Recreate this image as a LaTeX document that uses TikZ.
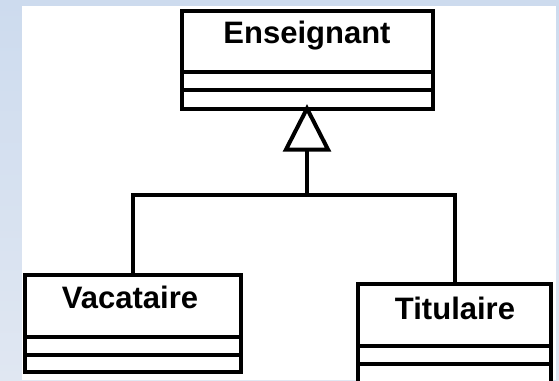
\documentclass[tikz,border=0pt]{standalone}
\usepackage{fontspec}
\setmainfont{Liberation Sans}
\begin{document}
\begin{tikzpicture}[x=1pt,y=-1pt,
  classbox/.style={draw=black,line width=4pt,fill=white,rectangle,inner sep=0pt,outer sep=0pt},
  classname/.style={font=\fontsize{31}{31}\selectfont\bfseries,anchor=base,inner sep=0pt},
  divider/.style={line width=4pt,draw=black},
  link/.style={line width=4pt,draw=black}]
\useasboundingbox (0,0) rectangle (559,380);
\clip (0,0) rectangle (559,380);
\shade[top color={rgb,255:red,205;green,219;blue,238},bottom color={rgb,255:red,224;green,231;blue,242}] (0,0) rectangle (559,380);
\fill[white] (22,6) rectangle (556,380);
% Enseignant
\node[classbox,minimum width=251pt,minimum height=97.5pt] (ens) at (307,59.75) {};
\node[classname] (enst) at (307,43) {Enseignant};
\coordinate (ed1l) at (181.5,71.5); \coordinate (ed1r) at (432.5,71.5);
\coordinate (ed2l) at (181.5,90); \coordinate (ed2r) at (432.5,90);
\draw[divider] (ed1l) -- (ed1r);
\draw[divider] (ed2l) -- (ed2r);
% Vacataire
\node[classbox,minimum width=215.5pt,minimum height=97.5pt] (vac) at (132.75,323.25) {};
\node[classname] (vact) at (130,308) {Vacataire};
\coordinate (vd1l) at (25,337); \coordinate (vd1r) at (240.5,337);
\coordinate (vd2l) at (25,355); \coordinate (vd2r) at (240.5,355);
\draw[divider] (vd1l) -- (vd1r);
\draw[divider] (vd2l) -- (vd2r);
% Titulaire
\node[classbox,minimum width=193pt,minimum height=100pt] (tit) at (454.5,334) {};
\node[classname] (titt) at (455,319) {Titulaire};
\coordinate (td1l) at (358,346); \coordinate (td1r) at (551,346);
\coordinate (td2l) at (358,364); \coordinate (td2r) at (551,364);
\draw[divider] (td1l) -- (td1r);
\draw[divider] (td2l) -- (td2r);
% generalization
\coordinate (tribl) at (286,149.5);
\coordinate (tribr) at (328,149.5);
\coordinate (tribase) at (307,149.5);
\coordinate (junc) at (307,195);
\draw[link,fill=white] (ens.south) -- (tribr) -- (tribl) -- cycle;
\draw[link] (tribase) -- (junc);
\draw[link] (vac.north) |- (junc) -| (tit.north);
\end{tikzpicture}
\end{document}
